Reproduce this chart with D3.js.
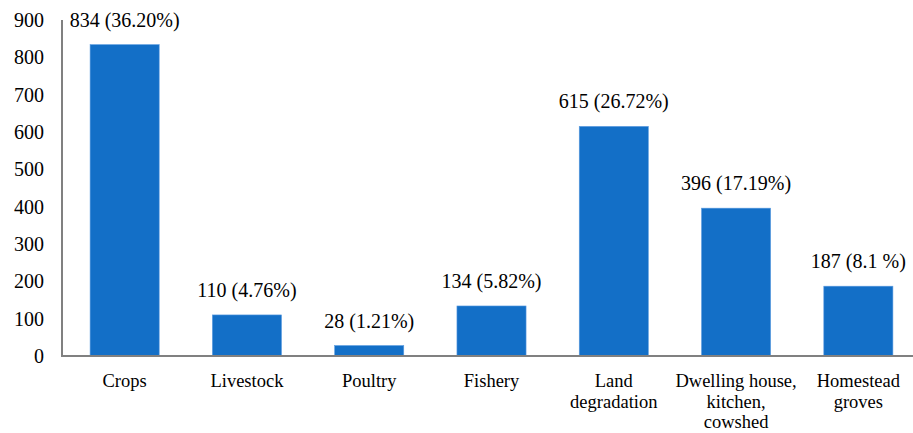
<!DOCTYPE html>
<html>
<head>
<meta charset="utf-8">
<script src="https://cdn.jsdelivr.net/npm/d3@7"></script>
<style>
  html, body { margin: 0; padding: 0; background: #fff; }
  svg { display: block; }
</style>
</head>
<body>
<svg id="chart" width="913" height="433"></svg>
<script>
// Damage categories (line breaks mark wrapped axis labels)
const categories = [
  "Crops",
  "Livestock",
  "Poultry",
  "Fishery",
  "Land\ndegradation",
  "Dwelling house,\nkitchen,\ncowshed",
  "Homestead\ngroves"
];
// Number of responses per category
const counts = [834, 110, 28, 134, 615, 396, 187];
// Share of total, as printed on each bar
const shares = ["36.20%", "4.76%", "1.21%", "5.82%", "26.72%", "17.19%", "8.1 %"];
// Y axis ticks
const yTicks = [0, 100, 200, 300, 400, 500, 600, 700, 800, 900];

const serif = "'Liberation Serif', 'Times New Roman', 'DejaVu Serif', serif";
const svg = d3.select("#chart");
const plotLeft = 62, plotTop = 20, plotBottom = 356;

const x = d3.scaleBand()
  .domain(categories)
  .range([63.5, 919.5])
  .paddingInner(0.435)
  .paddingOuter(0.2175);

const y = d3.scaleLinear()
  .domain([0, 900])
  .range([plotBottom, plotTop]);

// Bars
svg.append("g")
  .selectAll("rect")
  .data(counts)
  .join("rect")
  .attr("x", (d, i) => x(categories[i]))
  .attr("y", d => y(d))
  .attr("width", x.bandwidth())
  .attr("height", d => y(0) - y(d))
  .attr("fill", "#136fc7")
  .attr("stroke", "#5b9be0")
  .attr("stroke-width", 0.6);

// Value labels above bars
svg.append("g")
  .selectAll("text")
  .data(counts)
  .join("text")
  .attr("x", (d, i) => x(categories[i]) + x.bandwidth() / 2)
  .attr("y", d => Math.max(y(d) - 18, 26))
  .attr("text-anchor", "middle")
  .style("font-family", serif)
  .style("font-size", "20px")
  .attr("fill", "#000")
  .text((d, i) => `${d} (${shares[i]})`);

// Y axis: labels only, plus a vertical rule
const yAxis = d3.axisLeft(y).tickValues(yTicks).tickSize(0).tickPadding(18);
const gy = svg.append("g")
  .attr("transform", `translate(${plotLeft},0)`)
  .call(yAxis);
gy.select(".domain").remove();
gy.selectAll("text")
  .style("font-size", "20px")
  .style("font-family", serif)
  .attr("fill", "#000");

svg.append("line")
  .attr("x1", plotLeft).attr("x2", plotLeft)
  .attr("y1", y(900)).attr("y2", y(0))
  .attr("stroke", "#808080").attr("stroke-width", 2);

// X axis baseline
svg.append("line")
  .attr("x1", plotLeft - 1).attr("x2", 913)
  .attr("y1", y(0)).attr("y2", y(0))
  .attr("stroke", "#808080").attr("stroke-width", 2);

// Category labels, wrapped onto several lines
const cat = svg.append("g")
  .selectAll("text")
  .data(categories)
  .join("text")
  .attr("x", d => x(d) + x.bandwidth() / 2)
  .attr("y", 387)
  .attr("text-anchor", "middle")
  .style("font-family", serif)
  .style("font-size", "18.5px")
  .attr("fill", "#000");
cat.selectAll("tspan")
  .data(d => d.split("\n").map(line => ({ line, d })))
  .join("tspan")
  .attr("x", t => x(t.d) + x.bandwidth() / 2)
  .attr("dy", (t, i) => i === 0 ? 0 : 20.5)
  .text(t => t.line);
</script>
</body>
</html>
